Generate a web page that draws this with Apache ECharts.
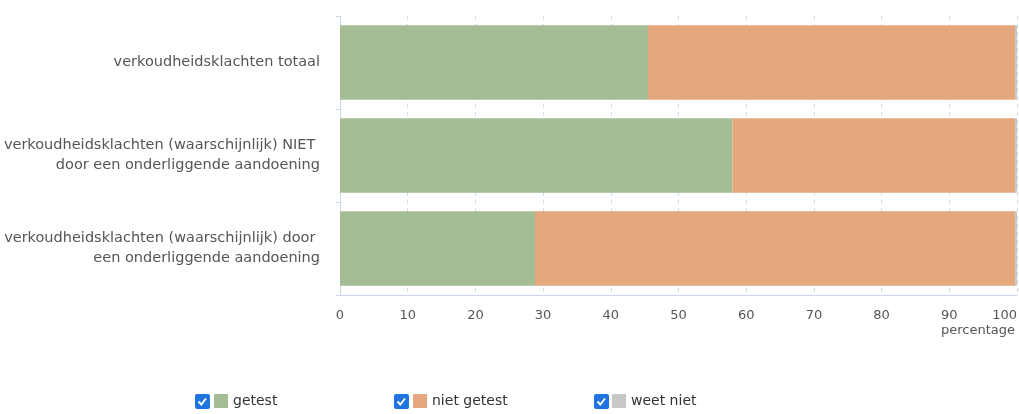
<!DOCTYPE html>
<html>
<head>
<meta charset="utf-8">
<script src="https://cdn.jsdelivr.net/npm/echarts@6/dist/echarts.min.js"></script>
<style>html,body{margin:0;padding:0;background:#fff;}#c{width:1019px;height:414px;}</style>
</head>
<body>
<div id="c"></div>
<script>
const categories = [
  'verkoudheidsklachten totaal',
  'verkoudheidsklachten (waarschijnlijk) NIET door een onderliggende aandoening',
  'verkoudheidsklachten (waarschijnlijk) door een onderliggende aandoening'
];
const seriesNames = ['getest', 'niet getest', 'weet niet'];
const getest = [45.5, 58.0, 28.8];
const nietGetest = [54.2, 41.7, 70.9];
const weetNiet = [0.3, 0.3, 0.3];
const xTicks = [0, 10, 20, 30, 40, 50, 60, 70, 80, 90, 100];
const axisName = 'percentage';

const colors = ['#a4bd95', '#e5a77e', '#c8c8c8'];
const values = [getest, nietGetest, weetNiet];

const chart = echarts.init(document.getElementById('c'), null, {renderer: 'canvas'});
const font = "'DejaVu Sans', sans-serif";

const legendLeft = [214, 413, 612];
const checkLeft = [195, 394, 594];

const option = {
  animation: false,
  textStyle: {fontFamily: font},
  grid: {left: 340, right: 2, top: 16, bottom: 119, containLabel: false, outerBoundsMode: 'none'},
  xAxis: {
    type: 'value',
    min: xTicks[0], max: xTicks[xTicks.length - 1], interval: 10,
    name: axisName,
    nameLocation: 'end',
    nameGap: -2,
    nameTextStyle: {color: '#555', fontSize: 13, align: 'right', verticalAlign: 'top', padding: [29, 0, 0, 0], fontFamily: font},
    axisLine: {show: true, lineStyle: {color: '#ccd6eb', width: 1}},
    axisTick: {show: false},
    axisLabel: {color: '#555', fontSize: 13, margin: 14, fontFamily: font, alignMaxLabel: 'right'},
    splitLine: {show: true, lineStyle: {color: '#d3dbe8', type: [4, 4], width: 1}}
  },
  yAxis: {
    type: 'category',
    data: categories,
    inverse: true,
    axisLine: {show: true, lineStyle: {color: '#ccd6eb'}},
    axisTick: {show: true, length: 4, lineStyle: {color: '#ccd6eb'}},
    axisLabel: {
      color: '#555', fontSize: 14.5, margin: 20, fontFamily: font,
      width: 318, overflow: 'break', lineHeight: 20, align: 'right',
      padding: [5, 0, 0, 0]
    },
    splitLine: {show: false}
  },
  legend: seriesNames.map((n, i) => ({
    data: [n],
    left: legendLeft[i],
    top: 394,
    padding: 0,
    icon: 'rect',
    itemWidth: 14, itemHeight: 14, itemGap: 6,
    selectedMode: false,
    textStyle: {color: '#333', fontSize: 14, fontFamily: font}
  })),
  graphic: checkLeft.map(x => ({
    type: 'group', left: x, top: 394,
    children: [
      {type: 'rect', shape: {x: 0, y: 0, width: 15, height: 15, r: 2}, style: {fill: '#1f74e0'}},
      {type: 'polyline', shape: {points: [[3.5, 7.5], [6.3, 10.5], [11, 4.5]]}, style: {stroke: '#fff', lineWidth: 2, fill: null}}
    ]
  })),
  series: seriesNames.map((n, i) => ({
    name: n,
    type: 'bar',
    stack: 'total',
    data: values[i],
    barCategoryGap: '20%',
    itemStyle: {color: colors[i]},
    emphasis: {disabled: true}
  }))
};
chart.setOption(option);
</script>
</body>
</html>
